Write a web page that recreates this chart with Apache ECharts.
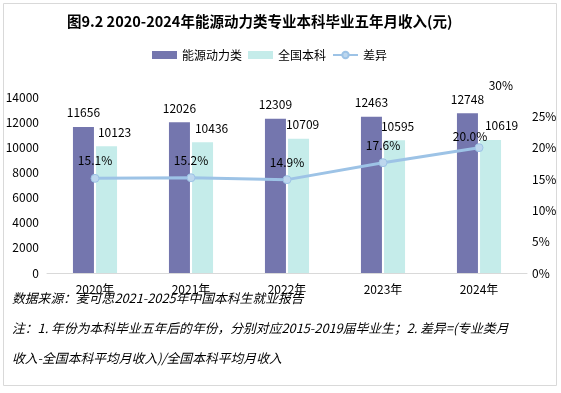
<!DOCTYPE html>
<html><head><meta charset="utf-8">
<script src="https://cdn.jsdelivr.net/npm/echarts@6/dist/echarts.min.js"></script>
<style>html,body{margin:0;padding:0;background:#fff}#c{width:561px;height:393px}</style>
</head><body><div id="c"></div>
<script>
const categories = ['2020年','2021年','2022年','2023年','2024年'];
const majorIncome = [11656, 12026, 12309, 12463, 12748];
const nationalIncome = [10123, 10436, 10709, 10595, 10619];
const diffPct = [15.1, 15.2, 14.9, 17.6, 20.0];
const titleText = '图9.2 2020-2024年能源动力类专业本科毕业五年月收入(元)';
const sourceText = '数据来源：麦可思2021-2025年中国本科生就业报告';
const noteLine1 = '注：1. 年份为本科毕业五年后的年份，分别对应2015-2019届毕业生；2. 差异=(专业类月';
const noteLine2 = '收入-全国本科平均月收入)/全国本科平均月收入';

const FONT = '"Noto Sans CJK SC", "DejaVu Sans", sans-serif';
// label nudges (style only)
const natLabelDx = [8, 9, 4, 3, 11];
const lineLabelShift = [[0, 0], [0, 0], [0, 0], [0, 0], [-9, 6]];

const chart = echarts.init(document.getElementById('c'));
chart.setOption({
  animation: false,
  textStyle: {fontFamily: FONT},
  title: {
    text: titleText, left: 62, top: 9,
    textStyle: {fontSize: 14.5, fontWeight: 'bold', color: '#000', fontFamily: FONT}
  },
  legend: {
    top: 44, left: 147, itemGap: 6, itemWidth: 25, itemHeight: 8,
    textStyle: {fontSize: 12, color: '#000'},
    data: [
      {name: '能源动力类', icon: 'rect'},
      {name: '全国本科', icon: 'rect'},
      {name: '差异'}
    ]
  },
  grid: {left: 47, right: 34, top: 85, bottom: 120},
  xAxis: {
    type: 'category', data: categories,
    axisLine: {lineStyle: {color: '#d9d9d9', width: 1}},
    axisTick: {show: false},
    axisLabel: {color: '#000', fontSize: 12, margin: 10}
  },
  yAxis: [
    {
      type: 'value', min: 0, max: 15000, interval: 2000,
      splitLine: {show: false}, axisLine: {show: false}, axisTick: {show: false},
      axisLabel: {color: '#000', fontSize: 12, margin: 8, showMaxLabel: false, formatter: v => String(v)}
    },
    {
      type: 'value', min: 0, max: 30, interval: 5,
      splitLine: {show: false}, axisLine: {show: false}, axisTick: {show: false},
      axisLabel: {color: '#000', fontSize: 12, margin: 5,
        alignMaxLabel: 'right',
        formatter: v => v === 30 ? '{m|30%}' : v + '%',
        rich: {m: {fontSize: 12, color: '#000', padding: [0, 19, 0, 0]}}}
    }
  ],
  series: [
    {
      name: '能源动力类', type: 'bar', data: majorIncome, barWidth: 21, barGap: '10%',
      itemStyle: {color: '#7476AE'},
      label: {show: true, position: 'top', distance: 8, color: '#000', fontSize: 12}
    },
    {
      name: '全国本科', type: 'bar', barWidth: 21,
      data: nationalIncome.map((v, i) => ({value: v, label: {offset: [natLabelDx[i], 0]}})),
      itemStyle: {color: '#C5ECEA'},
      label: {show: true, position: 'top', distance: 8, color: '#000', fontSize: 12}
    },
    {
      name: '差异', type: 'line', yAxisIndex: 1,
      data: diffPct.map((v, i) => ({value: v, label: {offset: lineLabelShift[i]}})),
      symbol: 'circle', symbolSize: 8,
      lineStyle: {color: '#9DC3E6', width: 3},
      itemStyle: {color: '#BDD7EE', borderColor: '#9DC3E6', borderWidth: 1},
      label: {show: true, position: 'top', distance: 7, color: '#000', fontSize: 12,
        formatter: p => Number(p.value).toFixed(1) + '%'}
    }
  ],
  graphic: [
    {type: 'rect', shape: {x: 3.5, y: 3.5, width: 553, height: 382}, style: {fill: 'none', stroke: '#d9d9d9', lineWidth: 1}, silent: true},
    {type: 'text', left: 12, top: 292, style: {text: sourceText, font: 'italic 12.8px ' + FONT, fill: '#000'}},
    {type: 'text', left: 12, top: 322, style: {text: noteLine1, font: 'italic 12.8px ' + FONT, fill: '#000'}},
    {type: 'text', left: 12, top: 352, style: {text: noteLine2, font: 'italic 12.8px ' + FONT, fill: '#000'}}
  ]
});
</script></body></html>
